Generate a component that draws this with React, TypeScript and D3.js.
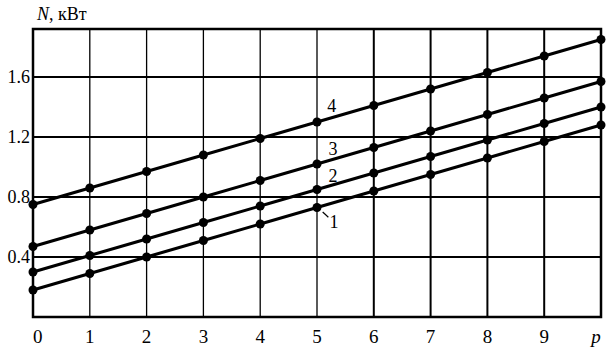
import * as d3 from "d3";
import { useEffect, useRef } from "react";

const pValues = [0, 1, 2, 3, 4, 5, 6, 7, 8, 9, 10];
const xTickLabels = ["0", "1", "2", "3", "4", "5", "6", "7", "8", "9", "p"];
const yTicks = [0.4, 0.8, 1.2, 1.6];

const line1 = [0.18, 0.29, 0.4, 0.51, 0.62, 0.73, 0.84, 0.95, 1.06, 1.17, 1.28];
const line2 = [0.3, 0.41, 0.52, 0.63, 0.74, 0.85, 0.96, 1.07, 1.18, 1.29, 1.4];
const line3 = [0.47, 0.58, 0.69, 0.8, 0.91, 1.02, 1.13, 1.24, 1.35, 1.46, 1.57];
const line4 = [0.75, 0.86, 0.97, 1.08, 1.19, 1.3, 1.41, 1.52, 1.63, 1.74, 1.85];

const series = [
  { name: "1", values: line1 },
  { name: "2", values: line2 },
  { name: "3", values: line3 },
  { name: "4", values: line4 },
];

// label anchors (p, N) next to each line
const labelAnchors = [
  { name: "1", p: 5.3, n: 0.595 },
  { name: "2", p: 5.28, n: 0.9 },
  { name: "3", p: 5.28, n: 1.08 },
  { name: "4", p: 5.26, n: 1.365 },
];

const FONT = "'Liberation Serif', 'Times New Roman', 'DejaVu Serif', serif";

const App = () => {
  const chartRef = useRef<SVGSVGElement | null>(null);

  const width = 612;
  const height = 353;
  const margin = { top: 29, bottom: 36, left: 33, right: 11 };

  useEffect(() => {
    const svg = d3.select(chartRef.current);
    svg.selectAll("*").remove();

    const x = d3.scaleLinear().domain([0, 10]).range([margin.left, width - margin.right]);
    const y = d3.scaleLinear().domain([0, 1.92]).range([height - margin.bottom, margin.top]);

    svg.append("rect")
      .attr("width", width)
      .attr("height", height)
      .attr("fill", "#fff");

    // vertical grid
    svg.append("g")
      .selectAll("line")
      .data(pValues.slice(1, -1))
      .enter()
      .append("line")
      .attr("x1", d => x(d))
      .attr("x2", d => x(d))
      .attr("y1", y(0))
      .attr("y2", y(1.92))
      .attr("stroke", "#000")
      .attr("stroke-width", d => (d >= 6 ? 2 : 1.3));

    // horizontal grid
    svg.append("g")
      .selectAll("line")
      .data(yTicks)
      .enter()
      .append("line")
      .attr("x1", x(0))
      .attr("x2", x(10))
      .attr("y1", d => y(d))
      .attr("y2", d => y(d))
      .attr("stroke", "#000")
      .attr("stroke-width", 2);

    // frame
    svg.append("rect")
      .attr("x", x(0))
      .attr("y", y(1.92))
      .attr("width", x(10) - x(0))
      .attr("height", y(0) - y(1.92))
      .attr("fill", "none")
      .attr("stroke", "#000")
      .attr("stroke-width", 2.5);

    // lines + markers
    const lineGen = d3.line<number>()
      .x((_, i) => x(pValues[i]))
      .y(d => y(d));

    series.forEach(s => {
      svg.append("path")
        .attr("d", lineGen(s.values))
        .attr("fill", "none")
        .attr("stroke", "#000")
        .attr("stroke-width", 3);

      svg.append("g")
        .selectAll("circle")
        .data(s.values)
        .enter()
        .append("circle")
        .attr("cx", (_, i) => x(pValues[i]))
        .attr("cy", d => y(d))
        .attr("r", 4.5)
        .attr("fill", "#000");
    });

    // line labels
    labelAnchors.forEach(l => {
      svg.append("text")
        .attr("x", x(l.p))
        .attr("y", y(l.n))
        .style("font-family", FONT)
        .style("font-size", "18px")
        .attr("text-anchor", "middle")
        .text(l.name);
    });

    // leader for label 1
    svg.append("line")
      .attr("x1", x(5.1))
      .attr("y1", y(0.7))
      .attr("x2", x(5.2))
      .attr("y2", y(0.665))
      .attr("stroke", "#000")
      .attr("stroke-width", 1.2);

    // x tick labels
    svg.append("g")
      .selectAll("text")
      .data(pValues)
      .enter()
      .append("text")
      .attr("x", d => x(d) + (d === 10 ? -5 : 0))
      .attr("y", y(0) + 26)
      .style("font-family", FONT)
      .style("font-size", "19px")
      .style("font-style", (_, i) => (xTickLabels[i] === "p" ? "italic" : "normal"))
      .attr("text-anchor", (_, i) => (i === 0 ? "start" : "middle"))
      .text((_, i) => xTickLabels[i]);

    // y tick labels
    svg.append("g")
      .selectAll("text")
      .data(yTicks)
      .enter()
      .append("text")
      .attr("x", x(0) - 3)
      .attr("y", d => y(d) + 6)
      .style("font-family", FONT)
      .style("font-size", "18px")
      .attr("text-anchor", "end")
      .text(d => d.toFixed(1));

    // axis title
    const title = svg.append("text")
      .attr("x", x(0) + 4)
      .attr("y", 20)
      .style("font-family", FONT)
      .style("font-size", "18px");
    title.append("tspan").style("font-style", "italic").text("N");
    title.append("tspan").text(", кВт");
  }, []);

  return (
    <svg
      ref={chartRef}
      width={width}
      height={height}
      style={{ position: "absolute", left: 0, top: 0 }}
    ></svg>
  );
};

export default App;
